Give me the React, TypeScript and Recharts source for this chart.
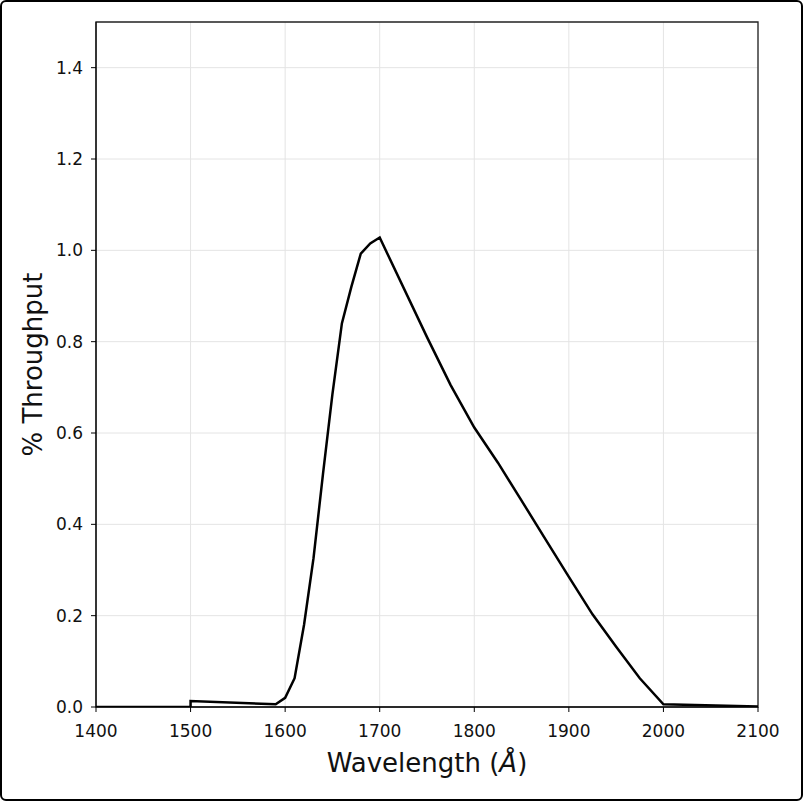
import React from 'react';
import { LineChart, Line, XAxis, YAxis, CartesianGrid, ReferenceArea } from 'recharts';

const wavelengths = [1400, 1500, 1500, 1590, 1600, 1610, 1620, 1630, 1640, 1650, 1660, 1670, 1680, 1690, 1700, 1750, 1775, 1800, 1825, 1850, 1875, 1900, 1925, 1950, 1975, 2000, 2100];
const throughput = [0, 0, 0.013, 0.006, 0.02, 0.063, 0.18, 0.326, 0.51, 0.685, 0.84, 0.92, 0.993, 1.015, 1.028, 0.81, 0.705, 0.612, 0.535, 0.452, 0.368, 0.285, 0.203, 0.132, 0.063, 0.006, 0.001];
const xTicks = [1400, 1500, 1600, 1700, 1800, 1900, 2000, 2100];
const yTicks = [0, 0.2, 0.4, 0.6, 0.8, 1.0, 1.2, 1.4];

const data = wavelengths.map((w, i) => ({ w, t: throughput[i] }));

const FONT = 'DejaVu Sans';

const XTick = (props: any) => (
  <text x={props.x} y={props.y} dy="0.71em" textAnchor="middle" fontSize={17} fontFamily={FONT} fill="#111">
    {props.payload.value}
  </text>
);

const YTick = (props: any) => (
  <text x={props.x} y={props.y} dy="0.36em" textAnchor="end" fontSize={17} fontFamily={FONT} fill="#111">
    {Number(props.payload.value).toFixed(1)}
  </text>
);

export default function App() {
  return (
    <div style={{ position: 'absolute', left: 0, top: 0, width: 803, height: 801, background: '#fff' }}>
      <div style={{ position: 'absolute', left: 0, top: 0, width: 803, height: 801, boxSizing: 'border-box', border: '2px solid #000', borderRadius: 6, pointerEvents: 'none', zIndex: 2 }} />
      <LineChart width={803} height={801} data={data} margin={{ top: 22, right: 45, bottom: 44, left: 36 }}>
        <CartesianGrid stroke="#e4e4e4" strokeWidth={1} horizontalValues={yTicks} verticalValues={xTicks} />
        <XAxis
          dataKey="w"
          type="number"
          domain={[1400, 2100]}
          ticks={xTicks}
          allowDataOverflow
          height={50}
          tickSize={5}
          tickMargin={13}
          stroke="#000"
          tick={<XTick />}
          tickLine={{ stroke: '#000' }}
          label={(props: any) => {
            const vb = props.viewBox || { x: 96, y: 707, width: 662 };
            return (
              <text x={vb.x + vb.width / 2} y={vb.y + 65} textAnchor="middle" fontSize={26} fontFamily={FONT} fill="#111">
                Wavelength (<tspan fontStyle="italic">Å</tspan>)
              </text>
            );
          }}
        />
        <YAxis
          type="number"
          domain={[0, 1.5]}
          ticks={yTicks}
          allowDataOverflow
          width={60}
          tickSize={5}
          tickMargin={8}
          stroke="#000"
          tick={<YTick />}
          tickLine={{ stroke: '#000' }}
          label={(props: any) => {
            const vb = props.viewBox || { x: 36, y: 22, width: 60, height: 685 };
            const cx = 33;
            const cy = vb.y + vb.height / 2;
            return (
              <text x={cx} y={cy} textAnchor="middle" dominantBaseline="central" fontSize={26} fontFamily={FONT} fill="#111" transform={`rotate(-90 ${cx} ${cy})`}>
                % Throughput
              </text>
            );
          }}
        />
        <ReferenceArea x1={1400} x2={2100} y1={0} y2={1.5} fill="none" stroke="#222" strokeWidth={1.3} ifOverflow="visible" />
        <Line type="linear" dataKey="t" stroke="#000" strokeWidth={2.5} dot={false} isAnimationActive={false} />
      </LineChart>
    </div>
  );
}
